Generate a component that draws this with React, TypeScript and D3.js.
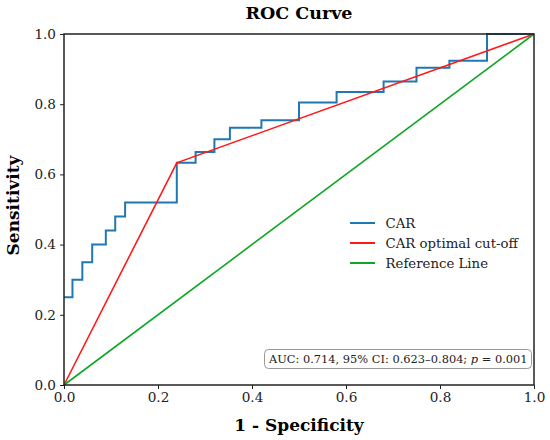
import { useEffect, useRef } from "react";
import * as d3 from "d3";

// CAR ROC step curve: [1 - specificity, sensitivity]
const carFpr = [0, 0.018, 0.018, 0.039, 0.039, 0.06, 0.06, 0.089, 0.089, 0.109, 0.109, 0.13, 0.13, 0.24, 0.24, 0.28, 0.28, 0.32, 0.32, 0.353, 0.353, 0.42, 0.42, 0.5, 0.5, 0.58, 0.58, 0.68, 0.68, 0.75, 0.75, 0.82, 0.82, 0.9, 0.9, 1.0];
const carTpr = [0.25, 0.25, 0.3, 0.3, 0.35, 0.35, 0.4, 0.4, 0.44, 0.44, 0.48, 0.48, 0.52, 0.52, 0.633, 0.633, 0.664, 0.664, 0.7, 0.7, 0.733, 0.733, 0.754, 0.754, 0.805, 0.805, 0.835, 0.835, 0.865, 0.865, 0.904, 0.904, 0.924, 0.924, 1.0, 1.0];

// optimal cut-off line through the best point
const cutFpr = [0, 0.24, 1];
const cutTpr = [0, 0.633, 1];

const refFpr = [0, 1];
const refTpr = [0, 1];

const ticks = [0, 0.2, 0.4, 0.6, 0.8, 1.0];

const series = [
    { name: "CAR", color: "#1f77b4", width: 2, xs: carFpr, ys: carTpr },
    { name: "CAR optimal cut-off", color: "#ff1a1a", width: 1.6, xs: cutFpr, ys: cutTpr },
    { name: "Reference Line", color: "#0fa624", width: 1.6, xs: refFpr, ys: refTpr },
];

const font = "'DejaVu Serif', serif";

export default function App() {
    const svgRef = useRef<SVGSVGElement>(null);

    useEffect(() => {
        if (!svgRef.current) return;
        const width = 550;
        const height = 440;
        const margin = { top: 34, right: 16, bottom: 55, left: 64 };

        const svg = d3.select(svgRef.current);
        svg.selectAll("*").remove();
        svg.attr("width", width).attr("height", height);

        const x = d3.scaleLinear().domain([0, 1]).range([margin.left, width - margin.right]);
        const y = d3.scaleLinear().domain([0, 1]).range([height - margin.bottom, margin.top]);

        svg.append("rect").attr("width", width).attr("height", height).attr("fill", "#fff");

        // series lines
        series.forEach((s) => {
            const pts = s.xs.map((v, i) => [v, s.ys[i]] as [number, number]);
            const line = d3.line<[number, number]>().x((d) => x(d[0])).y((d) => y(d[1]));
            svg.append("path")
                .attr("d", line(pts))
                .attr("fill", "none")
                .attr("stroke", s.color)
                .attr("stroke-width", s.width);
        });

        // axes
        const xAxis = svg.append("g")
            .attr("transform", `translate(0,${height - margin.bottom})`)
            .call(d3.axisBottom(x).tickValues(ticks).tickFormat(d3.format(".1f")).tickSize(4).tickPadding(3));
        const yAxis = svg.append("g")
            .attr("transform", `translate(${margin.left},0)`)
            .call(d3.axisLeft(y).tickValues(ticks).tickFormat(d3.format(".1f")).tickSize(4).tickPadding(4));
        [xAxis, yAxis].forEach((a) => {
            a.select(".domain").remove();
            a.selectAll("line").attr("stroke", "#222").attr("stroke-width", 1);
            a.selectAll("text").attr("font-family", font).attr("font-size", 13.6).attr("fill", "#222");
        });

        // frame
        svg.append("rect")
            .attr("x", x(0)).attr("y", y(1))
            .attr("width", x(1) - x(0)).attr("height", y(0) - y(1))
            .attr("fill", "none").attr("stroke", "#222").attr("stroke-width", 1.5);

        // title and labels
        const cx = (x(0) + x(1)) / 2;
        svg.append("text").attr("x", cx).attr("y", 19).attr("text-anchor", "middle")
            .attr("font-family", font).attr("font-weight", "bold").attr("font-size", 17.5).text("ROC Curve");
        svg.append("text").attr("x", cx).attr("y", 431).attr("text-anchor", "middle")
            .attr("font-family", font).attr("font-weight", "bold").attr("font-size", 17).text("1 - Specificity");
        svg.append("text")
            .attr("transform", `translate(18.5,${(y(0) + y(1)) / 2 - 4}) rotate(-90)`)
            .attr("text-anchor", "middle")
            .attr("font-family", font).attr("font-weight", "bold").attr("font-size", 17).text("Sensitivity");

        // legend
        const legend = svg.append("g").attr("transform", "translate(350,223)");
        series.forEach((s, i) => {
            const row = legend.append("g").attr("transform", `translate(0,${i * 20})`);
            row.append("line").attr("x1", 0).attr("x2", 25).attr("y1", 0).attr("y2", 0)
                .attr("stroke", s.color).attr("stroke-width", 2);
            row.append("text").attr("x", 35.5).attr("y", 0).attr("dy", "0.35em")
                .attr("font-family", font).attr("font-size", 13.3).attr("fill", "#222").text(s.name);
        });

        // AUC annotation box
        const box = svg.append("g");
        box.append("rect").attr("x", 264.5).attr("y", 349.5).attr("width", 267).attr("height", 19)
            .attr("rx", 4).attr("fill", "#fff").attr("stroke", "#999").attr("stroke-width", 1);
        const t = box.append("text").attr("x", 269).attr("y", 359).attr("dy", "0.35em")
            .attr("font-family", font).attr("font-size", 11.4).attr("fill", "#222");
        t.append("tspan").text("AUC: 0.714, 95% CI: 0.623–0.804; ");
        t.append("tspan").attr("font-style", "italic").text("p");
        t.append("tspan").text(" = 0.001");
    }, []);

    return <svg ref={svgRef} style={{ display: "block", position: "absolute", left: 0, top: 0 }}></svg>;
}
